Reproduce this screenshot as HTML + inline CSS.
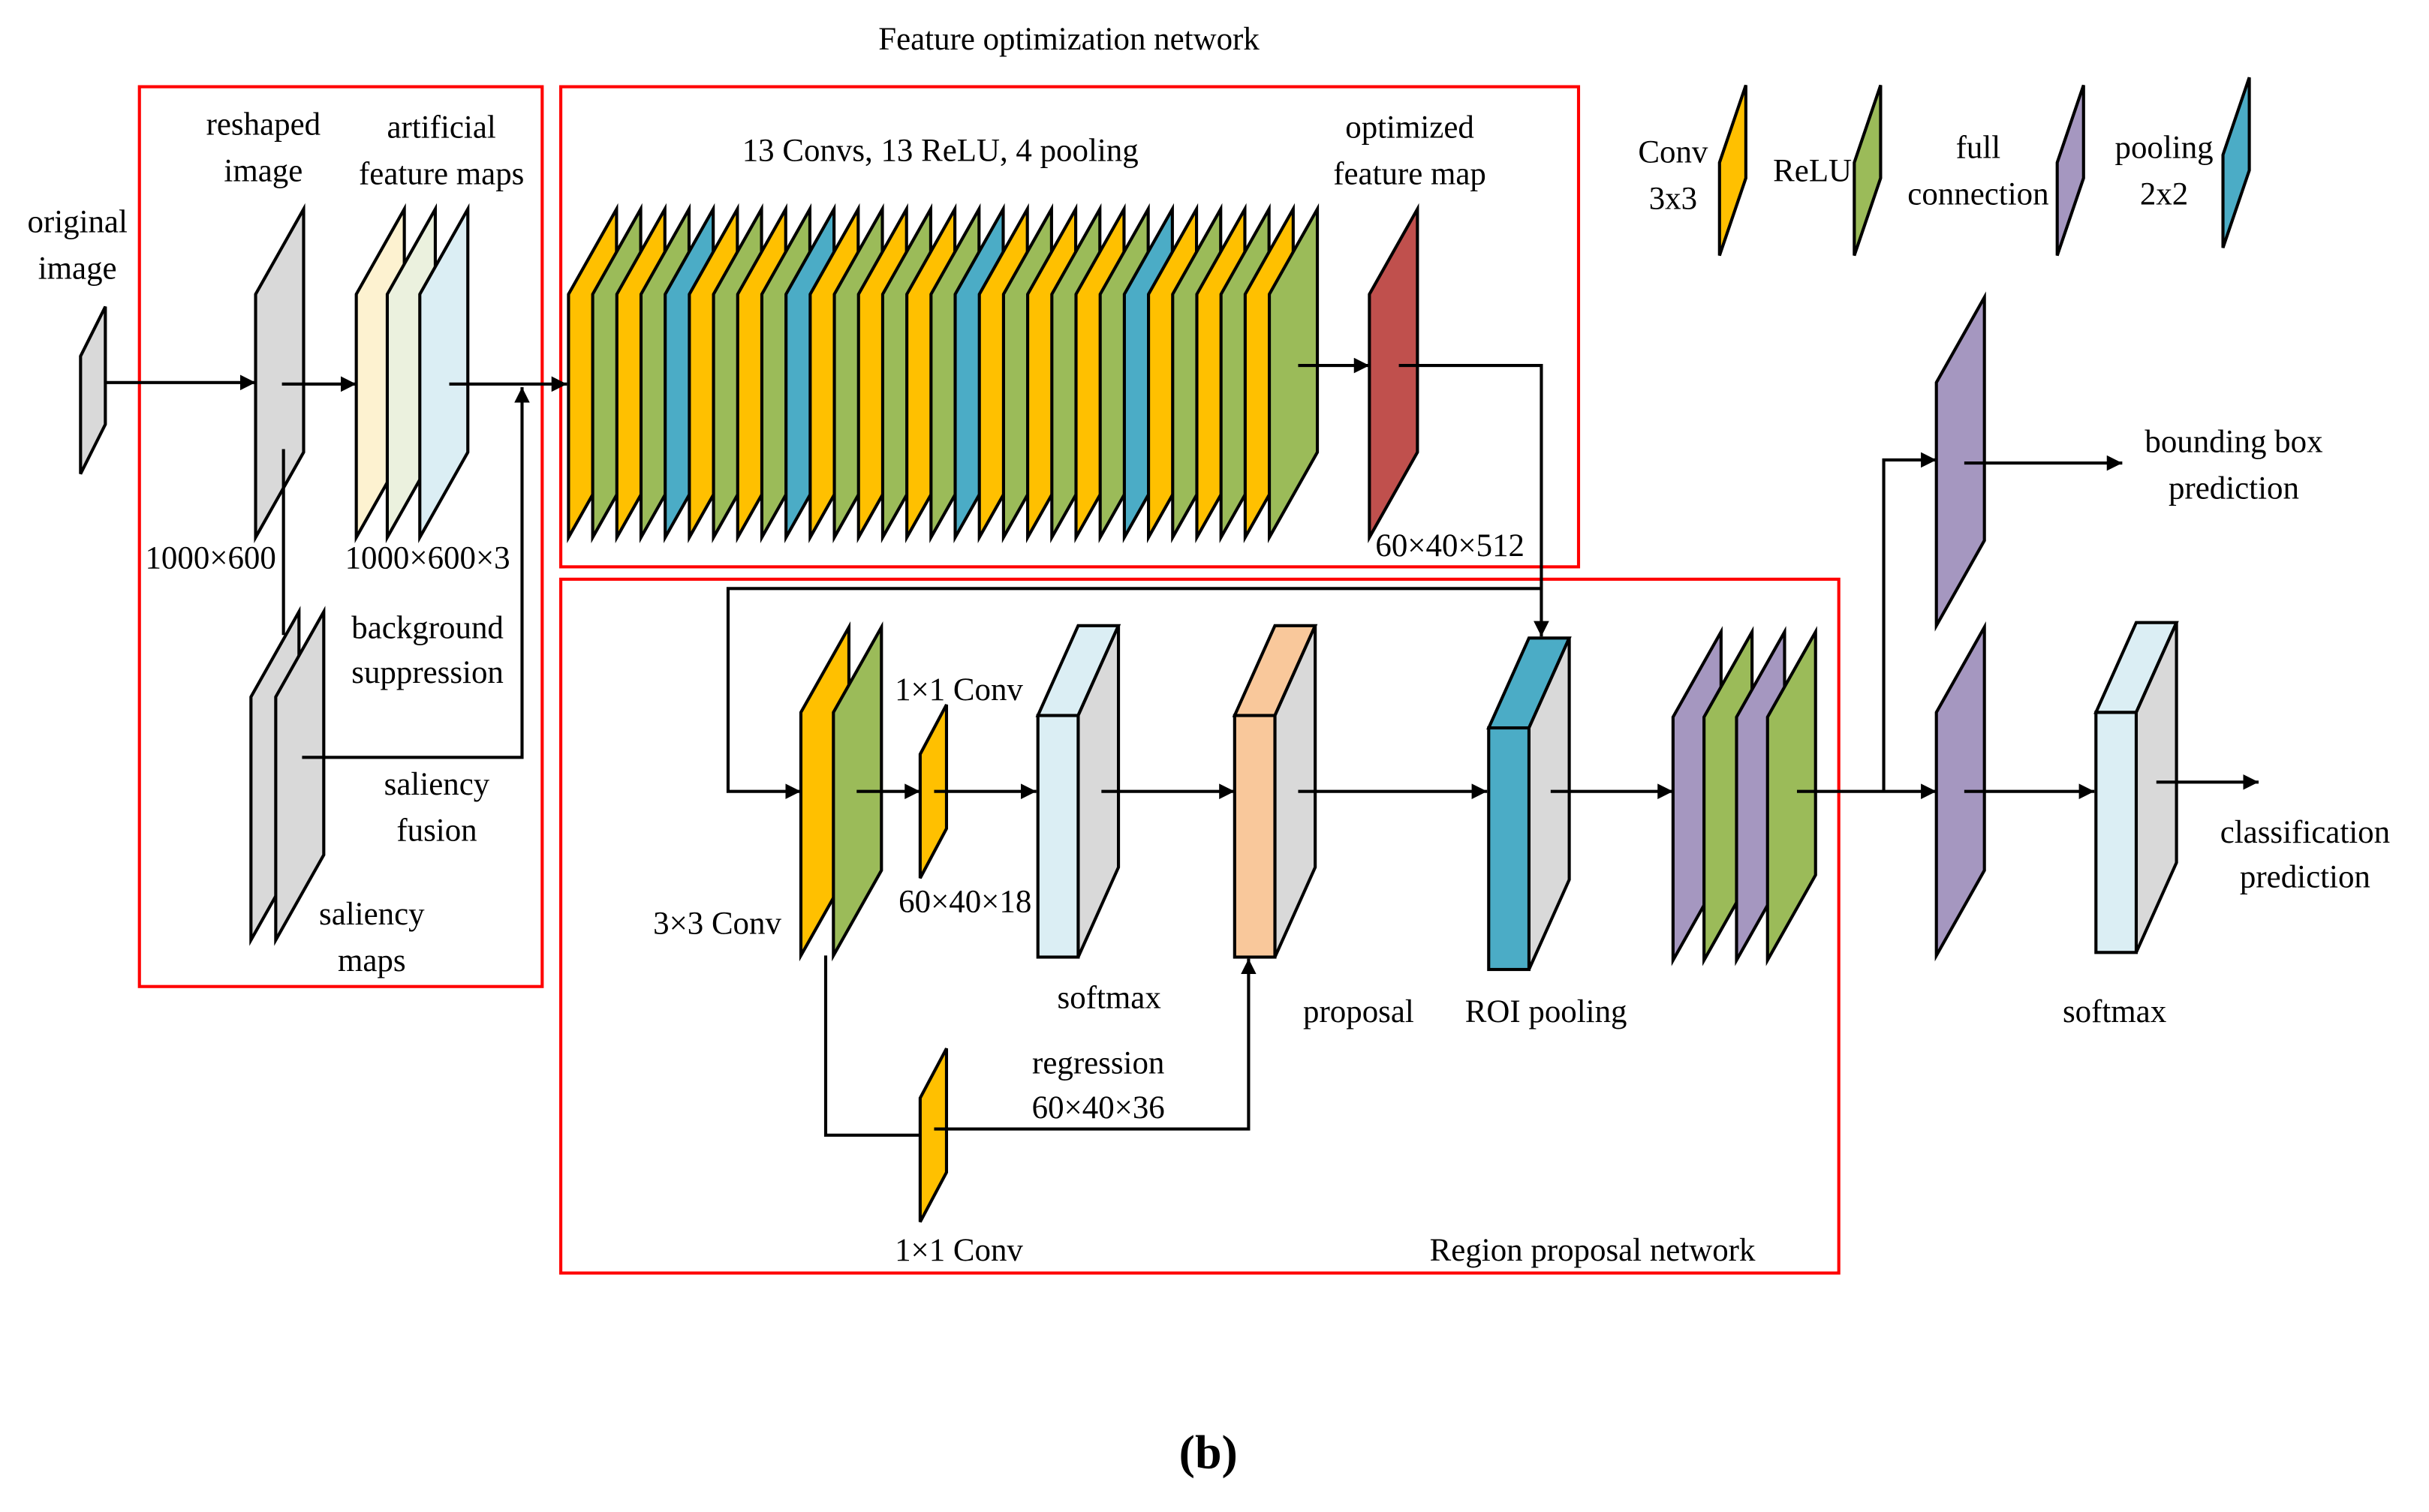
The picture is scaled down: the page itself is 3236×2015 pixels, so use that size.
<!DOCTYPE html>
<html><head><meta charset="utf-8"><style>
html,body{margin:0;padding:0;background:#fff;}
svg{display:block;}
text{font-family:"Liberation Serif",serif;font-size:20.8px;fill:#000;}
</style></head><body>
<svg width="3236" height="2015" viewBox="0 0 1568 976.3" preserveAspectRatio="none" xmlns="http://www.w3.org/2000/svg">
<defs>
<marker id="ah" viewBox="0 0 10 10" refX="10" refY="5" markerWidth="5" markerHeight="5" orient="auto" markerUnits="strokeWidth"><path d="M0,0 L10,5 L0,10 z" fill="#000"/></marker>
<polygon id="pp" points="0,55 31,0 31,157 0,212" stroke="#000" stroke-width="2" stroke-linejoin="miter"/>
<polygon id="sm" points="0,32 17,0 17,80 0,112" stroke="#000" stroke-width="2"/>
<polygon id="lg" points="0,50 17,0 17,60 0,110" stroke="#000" stroke-width="2"/>
</defs>
<g fill="none" stroke="#ff0000" stroke-width="2">
<rect x="90" y="56" width="260" height="581"/>
<rect x="362" y="56" width="657" height="310"/>
<rect x="362" y="374" width="825" height="448"/>
</g>
<text x="690" y="32" text-anchor="middle">Feature optimization network</text>
<polygon points="52,230 68,198 68,274 52,306" fill="#d9d9d9" stroke="#000" stroke-width="2"/>
<text x="50" y="150" text-anchor="middle">original</text><text x="50" y="180" text-anchor="middle">image</text>
<use href="#pp" x="165" y="135" fill="#d9d9d9"/>
<text x="170" y="87" text-anchor="middle">reshaped</text><text x="170" y="117" text-anchor="middle">image</text>
<text x="136" y="367" text-anchor="middle">1000×600</text>
<use href="#pp" x="230" y="135" fill="#fdf2d0"/>
<use href="#pp" x="250" y="135" fill="#ebf1de"/>
<use href="#pp" x="271" y="135" fill="#dbeef4"/>
<text x="285" y="89" text-anchor="middle">artificial</text><text x="285" y="119" text-anchor="middle">feature maps</text>
<text x="276" y="367" text-anchor="middle">1000×600×3</text>
<line x1="183" y1="290" x2="183" y2="410" stroke="#000" stroke-width="2"/>
<use href="#pp" x="162" y="395" fill="#d9d9d9"/>
<use href="#pp" x="178" y="395" fill="#d9d9d9"/>
<text x="276" y="412" text-anchor="middle">background</text><text x="276" y="441" text-anchor="middle">suppression</text>
<text x="282" y="513" text-anchor="middle">saliency</text><text x="282" y="543" text-anchor="middle">fusion</text>
<text x="240" y="597" text-anchor="middle">saliency</text><text x="240" y="627" text-anchor="middle">maps</text>
<g stroke="#000" stroke-width="2" fill="none">
<line x1="68" y1="247" x2="165" y2="247" marker-end="url(#ah)"/>
<line x1="182" y1="248" x2="230" y2="248" marker-end="url(#ah)"/>
<line x1="290" y1="248" x2="366" y2="248" marker-end="url(#ah)"/>
<polyline points="195,489 337,489 337,250" marker-end="url(#ah)"/>
</g>
<text x="607" y="104" text-anchor="middle">13 Convs, 13 ReLU, 4 pooling</text>
<g>
<use href="#pp" x="367" y="135" fill="#ffc000"/>
<use href="#pp" x="382.6" y="135" fill="#9bbb59"/>
<use href="#pp" x="398.2" y="135" fill="#ffc000"/>
<use href="#pp" x="413.8" y="135" fill="#9bbb59"/>
<use href="#pp" x="429.4" y="135" fill="#4bacc6"/>
<use href="#pp" x="445" y="135" fill="#ffc000"/>
<use href="#pp" x="460.6" y="135" fill="#9bbb59"/>
<use href="#pp" x="476.2" y="135" fill="#ffc000"/>
<use href="#pp" x="491.8" y="135" fill="#9bbb59"/>
<use href="#pp" x="507.4" y="135" fill="#4bacc6"/>
<use href="#pp" x="523" y="135" fill="#ffc000"/>
<use href="#pp" x="538.6" y="135" fill="#9bbb59"/>
<use href="#pp" x="554.2" y="135" fill="#ffc000"/>
<use href="#pp" x="569.8" y="135" fill="#9bbb59"/>
<use href="#pp" x="585.4" y="135" fill="#ffc000"/>
<use href="#pp" x="601" y="135" fill="#9bbb59"/>
<use href="#pp" x="616.6" y="135" fill="#4bacc6"/>
<use href="#pp" x="632.2" y="135" fill="#ffc000"/>
<use href="#pp" x="647.8" y="135" fill="#9bbb59"/>
<use href="#pp" x="663.4" y="135" fill="#ffc000"/>
<use href="#pp" x="679" y="135" fill="#9bbb59"/>
<use href="#pp" x="694.6" y="135" fill="#ffc000"/>
<use href="#pp" x="710.2" y="135" fill="#9bbb59"/>
<use href="#pp" x="725.8" y="135" fill="#4bacc6"/>
<use href="#pp" x="741.4" y="135" fill="#ffc000"/>
<use href="#pp" x="757" y="135" fill="#9bbb59"/>
<use href="#pp" x="772.6" y="135" fill="#ffc000"/>
<use href="#pp" x="788.2" y="135" fill="#9bbb59"/>
<use href="#pp" x="803.8" y="135" fill="#ffc000"/>
<use href="#pp" x="819.4" y="135" fill="#9bbb59"/>
</g>
<use href="#pp" x="884" y="135" fill="#c0504d"/>
<text x="910" y="89" text-anchor="middle">optimized</text><text x="910" y="119" text-anchor="middle">feature map</text>
<text x="936" y="359" text-anchor="middle">60×40×512</text>
<text x="1080" y="105" text-anchor="middle">Conv</text><text x="1080" y="135" text-anchor="middle">3x3</text>
<use href="#lg" x="1110" y="55" fill="#ffc000"/>
<text x="1170" y="117" text-anchor="middle">ReLU</text>
<use href="#lg" x="1197" y="55" fill="#9bbb59"/>
<text x="1277" y="102" text-anchor="middle">full</text><text x="1277" y="132" text-anchor="middle">connection</text>
<use href="#lg" x="1328" y="55" fill="#a597c0"/>
<text x="1397" y="102" text-anchor="middle">pooling</text><text x="1397" y="132" text-anchor="middle">2x2</text>
<use href="#lg" x="1435" y="50" fill="#4bacc6"/>
<use href="#pp" x="517" y="405" fill="#ffc000"/>
<use href="#pp" x="538" y="405" fill="#9bbb59"/>
<text x="463" y="603" text-anchor="middle">3×3 Conv</text>
<use href="#sm" x="594" y="455" fill="#ffc000"/>
<text x="619" y="452" text-anchor="middle">1×1 Conv</text>
<text x="623" y="589" text-anchor="middle">60×40×18</text>
<use href="#sm" x="594" y="677" fill="#ffc000"/>
<text x="709" y="693" text-anchor="middle">regression</text>
<text x="709" y="722" text-anchor="middle">60×40×36</text>
<text x="619" y="814" text-anchor="middle">1×1 Conv</text>
<text x="1028" y="814" text-anchor="middle">Region proposal network</text>
<g stroke="#000" stroke-width="2">
<polygon points="670,462 696,462 722,404 696,404" fill="#dbeef4"/>
<polygon points="696,462 722,404 722,560 696,618" fill="#d9d9d9"/>
<rect x="670" y="462" width="26" height="156" fill="#dbeef4"/>
<polygon points="797,462 823,462 849,404 823,404" fill="#f9c89b"/>
<polygon points="823,462 849,404 849,560 823,618" fill="#d9d9d9"/>
<rect x="797" y="462" width="26" height="156" fill="#f9c89b"/>
<polygon points="961,470 987,470 1013,412 987,412" fill="#4bacc6"/>
<polygon points="987,470 1013,412 1013,568 987,626" fill="#d9d9d9"/>
<rect x="961" y="470" width="26" height="156" fill="#4bacc6"/>
<polygon points="1353,460 1379,460 1405,402 1379,402" fill="#dbeef4"/>
<polygon points="1379,460 1405,402 1405,557 1379,615" fill="#d9d9d9"/>
<rect x="1353" y="460" width="26" height="155" fill="#dbeef4"/>
</g>
<text x="716" y="651" text-anchor="middle">softmax</text>
<text x="877" y="660" text-anchor="middle">proposal</text>
<text x="998" y="660" text-anchor="middle">ROI pooling</text>
<use href="#pp" x="1080" y="408" fill="#a597c0"/>
<use href="#pp" x="1100" y="408" fill="#9bbb59"/>
<use href="#pp" x="1121" y="408" fill="#a597c0"/>
<use href="#pp" x="1141" y="408" fill="#9bbb59"/>
<use href="#pp" x="1250" y="192" fill="#a597c0"/>
<use href="#pp" x="1250" y="405" fill="#a597c0"/>
<text x="1442" y="292" text-anchor="middle">bounding box</text><text x="1442" y="322" text-anchor="middle">prediction</text>
<text x="1365" y="660" text-anchor="middle">softmax</text>
<text x="1488" y="544" text-anchor="middle">classification</text><text x="1488" y="573" text-anchor="middle">prediction</text>
<g stroke="#000" stroke-width="2" fill="none">
<line x1="838" y1="236" x2="884" y2="236" marker-end="url(#ah)"/>
<polyline points="903,236 995,236 995,411" marker-end="url(#ah)"/>
<polyline points="995,380 470,380 470,511 517,511" marker-end="url(#ah)"/>
<line x1="553" y1="511" x2="594" y2="511" marker-end="url(#ah)"/>
<line x1="603" y1="511" x2="669" y2="511" marker-end="url(#ah)"/>
<line x1="711" y1="511" x2="797" y2="511" marker-end="url(#ah)"/>
<line x1="838" y1="511" x2="960" y2="511" marker-end="url(#ah)"/>
<line x1="1001" y1="511" x2="1080" y2="511" marker-end="url(#ah)"/>
<line x1="1160" y1="511" x2="1250" y2="511" marker-end="url(#ah)"/>
<polyline points="1216,511 1216,297 1250,297" marker-end="url(#ah)"/>
<line x1="1268" y1="299" x2="1370" y2="299" marker-end="url(#ah)"/>
<line x1="1268" y1="511" x2="1352" y2="511" marker-end="url(#ah)"/>
<line x1="1392" y1="505" x2="1458" y2="505" marker-end="url(#ah)"/>
<polyline points="533,617 533,733 594,733"/>
<polyline points="603,729 806,729 806,619" marker-end="url(#ah)"/>
</g>
<text x="780" y="948" text-anchor="middle" style="font-size:31px;font-weight:bold">(<tspan>b</tspan>)</text>
</svg>
</body></html>
